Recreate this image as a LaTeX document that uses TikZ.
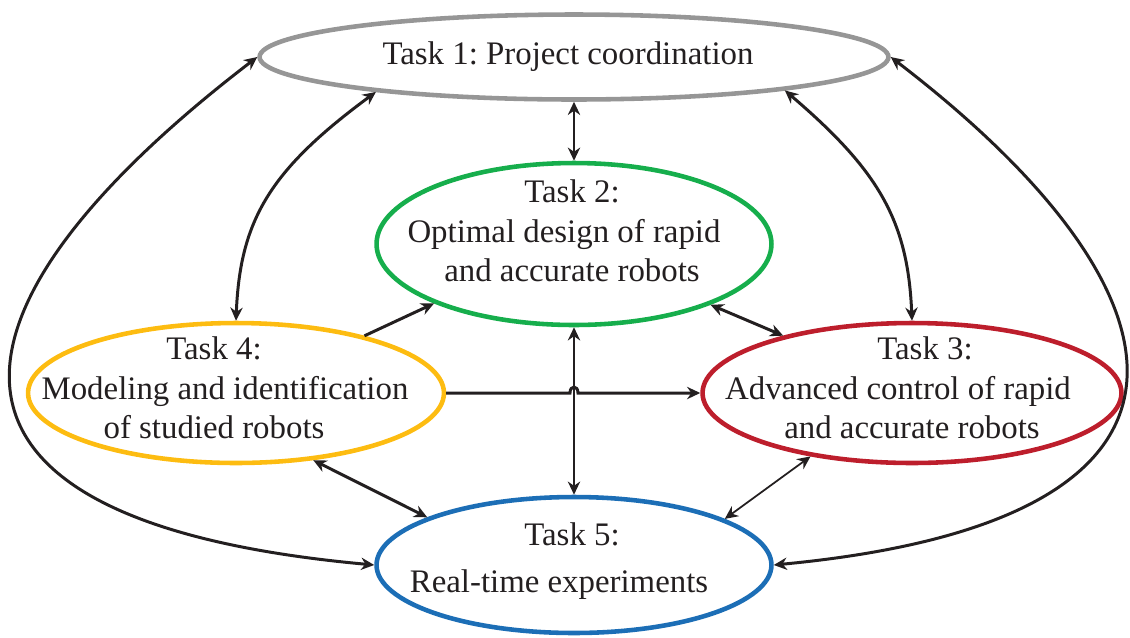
\documentclass[tikz,border=0pt]{standalone}
\usepackage{fontspec}
\setmainfont{Liberation Serif}
\usetikzlibrary{shapes.geometric,arrows.meta,calc}

\definecolor{taskgray}{RGB}{150,150,150}
\definecolor{taskgreen}{RGB}{22,174,76}
\definecolor{taskyellow}{RGB}{253,188,17}
\definecolor{taskred}{RGB}{189,30,44}
\definecolor{taskblue}{RGB}{28,110,182}
\definecolor{linkblack}{RGB}{35,31,32}

\tikzset{
  task/.style={ellipse, line width=2.6pt, inner sep=0pt},
  tasktext/.style={align=center, inner sep=0pt, text=linkblack,
    font=\fontsize{18.7}{22.5}\selectfont\frenchspacing},
  link/.style={draw=linkblack, line width=1.7pt,
    -{Stealth[length=7.5pt,width=7pt]}},
  both/.style={link, {Stealth[length=7.5pt,width=7pt]}-{Stealth[length=7.5pt,width=7pt]}},
}

\begin{document}
\begin{tikzpicture}[x=0.02cm,y=-0.02cm]
  \useasboundingbox (0,0) rectangle (1130,637);

  % the five tasks
  \node[task, draw=taskgray, minimum width=12.58cm, minimum height=1.70cm] (t1) at (574,57) {};
  \node[task, draw=taskgreen, minimum width=7.90cm, minimum height=3.24cm] (t2) at (574,244) {};
  \node[task, draw=taskred, minimum width=8.38cm, minimum height=2.80cm] (t3) at (912,393) {};
  \node[task, draw=taskyellow, minimum width=8.32cm, minimum height=2.80cm] (t4) at (236,393) {};
  \node[task, draw=taskblue, minimum width=7.90cm, minimum height=2.72cm] (t5) at (574,565) {};

  \node[tasktext] (t1txt) at (568,57) {Task 1: Project coordination};
  \node[tasktext] (t2txt) at (572,231) {Task 2:\\Optimal design of rapid\hspace*{3.2mm}\null\\and accurate robots};
  \node[tasktext] (t3txt) at (912,388) {\hspace*{5.2mm}Task 3:\\Advanced control of rapid\hspace*{5.6mm}\null\\and accurate robots};
  \node[tasktext] (t4txt) at (214,388) {Task 4:\\\hspace*{4.4mm}Modeling and identification\\of studied robots};
  \node[tasktext] (t5txt) at (572,561) {Task 5:\\[4.5pt]Real-time experiments\hspace*{5.2mm}};

  % links
  \draw[both] (t1.south) -- (t2.north);
  \draw[both] (t1.190) .. controls (270,170) and (240,220) .. (t4.north);
  \draw[both] (t1.351) .. controls (878,170) and (908,220) .. (t3.north);
  \draw[both] (t1.west) .. controls (-60,300) and (-120,520) .. (t5.west);
  \draw[both] (t1.east) .. controls (1195,290) and (1250,520) .. (t5.east);
  \draw[both] (t2.336) -- (t3.156);
  \draw[link] (t4.24) -- (t2.203);
  \draw[both] (t4.319) -- (t5.162);
  \draw[both, line width=1pt] (t3.212) -- (t5.17);
  \draw[both] (t5.north) -- (t2.south);
  \draw[link] (t4.east) -- ($(t4.east -| t2.south)+(-4,0)$)
    .. controls ($(t4.east -| t2.south)+(-4,-8)$) and ($(t4.east -| t2.south)+(4,-8)$)
    .. ($(t4.east -| t2.south)+(4,0)$) -- (t3.west);
\end{tikzpicture}
\end{document}
